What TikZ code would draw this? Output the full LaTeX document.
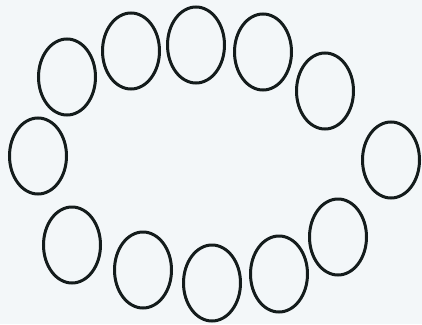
\documentclass[tikz,border=0pt]{standalone}
\usepackage{xcolor}
\usepackage{tikz}
\usetikzlibrary{shapes.geometric}
\definecolor{scanPaper}{HTML}{F3F7F9}
\definecolor{scanInk}{HTML}{141C1C}

\tikzset{
  ring/.style={ellipse, draw=scanInk, line width=3pt, inner sep=0pt,
               minimum width=57pt, minimum height=76pt}
}

\begin{document}
\begin{tikzpicture}[x=1pt,y=-1pt]
        \fill[scanPaper] (0,0) rectangle (422,324);
        \useasboundingbox (0,0) rectangle (422,324);
        % ring of groups, clockwise from the upper left
        \foreach \name/\px/\py in {g1/67/77, g2/131/51, g3/196/45, g4/263/52,
                                   g5/325/91, g6/391/160, g7/338/237, g8/279/274,
                                   g9/212/283, g10/143/270, g11/72/245, g12/38/156}
            \node[ring] (\name) at (\px,\py) {};
    \end{tikzpicture}
\end{document}
